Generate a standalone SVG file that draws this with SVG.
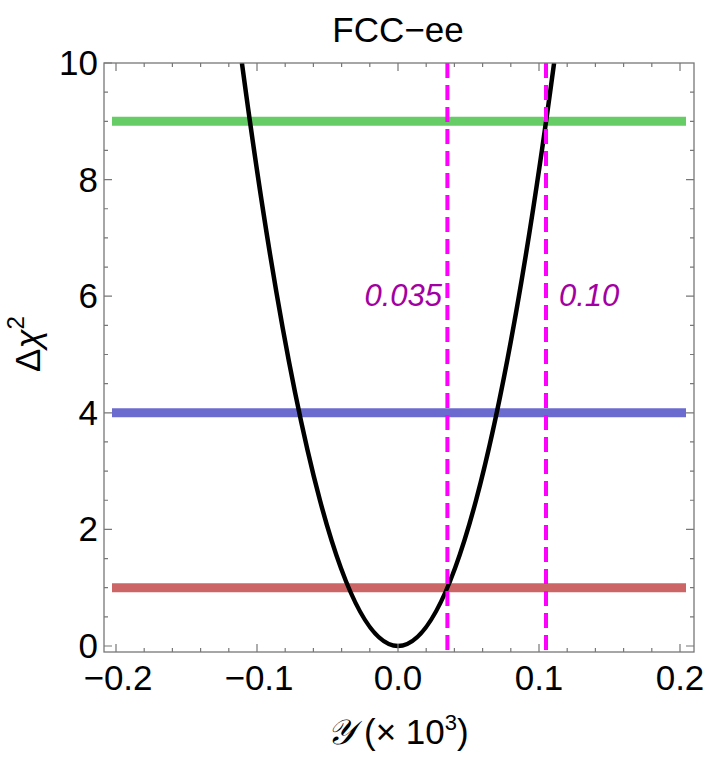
<svg xmlns="http://www.w3.org/2000/svg" width="706" height="757" viewBox="0 0 706 757">
<style>
text{font-family:"Liberation Sans",Arial,sans-serif;fill:#000}
.tl{font-size:35px}
.ax{stroke:#777;stroke-width:1.3;fill:none}
.tk{stroke:#777;stroke-width:1.2}
.band{stroke-width:9;fill:none}
.dash{stroke:#ff00ff;stroke-width:4;stroke-dasharray:15,7;fill:none}
.lab{font-size:31px;font-style:italic;fill:#a200a2}
</style>
<defs><clipPath id="fr"><rect x="104" y="63" width="590" height="589"/></clipPath></defs>
<rect width="706" height="757" fill="#fff"/>
<text class="tl" x="398" y="42" text-anchor="middle">FCC−ee</text>
<g id="bands">
<line class="band" x1="112" y1="121.3" x2="686" y2="121.3" stroke="#66cc66"/>
<line class="band" x1="112" y1="412.8" x2="686" y2="412.8" stroke="#6b6bcf"/>
<line class="band" x1="112" y1="587.7" x2="686" y2="587.7" stroke="#cc6666"/>
</g>
<g id="curve" clip-path="url(#fr)">
<path d="M241.9,63 Q398,1229 554.1,63" stroke="#000" stroke-width="4.5" fill="none"/>
</g>
<g id="connectors">
<line class="dash" x1="447.4" y1="63" x2="447.4" y2="652"/>
<line class="dash" x1="546" y1="63" x2="546" y2="652"/>
</g>
<g id="frame">
<rect class="ax" x="104" y="63" width="590" height="589"/>
<path class="tk" d="M116,652v-8M257,652v-8M398,652v-8M539,652v-8M680,652v-8M116,63v8M257,63v8M398,63v8M539,63v8M680,63v8
M144.2,652v-4M172.4,652v-4M200.6,652v-4M228.8,652v-4M285.2,652v-4M313.4,652v-4M341.6,652v-4M369.8,652v-4M426.2,652v-4M454.4,652v-4M482.6,652v-4M510.8,652v-4M567.2,652v-4M595.4,652v-4M623.6,652v-4M651.8,652v-4
M144.2,63v4M172.4,63v4M200.6,63v4M228.8,63v4M285.2,63v4M313.4,63v4M341.6,63v4M369.8,63v4M426.2,63v4M454.4,63v4M482.6,63v4M510.8,63v4M567.2,63v4M595.4,63v4M623.6,63v4M651.8,63v4
M104,646h8M104,529.4h8M104,412.8h8M104,296.2h8M104,179.6h8M104,63h8M694,646h-8M694,529.4h-8M694,412.8h-8M694,296.2h-8M694,179.6h-8
M104,616.85h4M104,587.7h4M104,558.55h4M104,500.25h4M104,471.1h4M104,441.95h4M104,383.65h4M104,354.5h4M104,325.35h4M104,267.05h4M104,237.9h4M104,208.75h4M104,150.45h4M104,121.3h4M104,92.15h4
M694,616.85h-4M694,587.7h-4M694,558.55h-4M694,500.25h-4M694,471.1h-4M694,441.95h-4M694,383.65h-4M694,354.5h-4M694,325.35h-4M694,267.05h-4M694,237.9h-4M694,208.75h-4M694,150.45h-4M694,121.3h-4M694,92.15h-4"/>
</g>
<g id="ticklabels" class="tl" text-anchor="middle">
<text x="118" y="690">−0.2</text><text x="259" y="690">−0.1</text><text x="398" y="690">0.0</text><text x="539" y="690">0.1</text><text x="680" y="690">0.2</text>
</g>
<g class="tl" text-anchor="end">
<text x="98" y="658">0</text><text x="98" y="541.4">2</text><text x="98" y="424.8">4</text><text x="98" y="308.2">6</text><text x="98" y="191.6">8</text><text x="98" y="75">10</text>
</g>
<text class="lab" x="442" y="306" text-anchor="end">0.035</text>
<text class="lab" x="559" y="306">0.10</text>
<text class="tl" font-size="38" transform="translate(40,344) rotate(-90)" text-anchor="middle">Δ<tspan font-style="italic">χ</tspan><tspan font-size="24" dy="-16">2</tspan></text>
<text class="tl" x="398" y="744" text-anchor="middle"><tspan font-family="'DejaVu Serif',serif" font-style="italic">𝒴</tspan> (× 10<tspan font-size="22" dy="-14">3</tspan><tspan dy="14">)</tspan></text>
</svg>
